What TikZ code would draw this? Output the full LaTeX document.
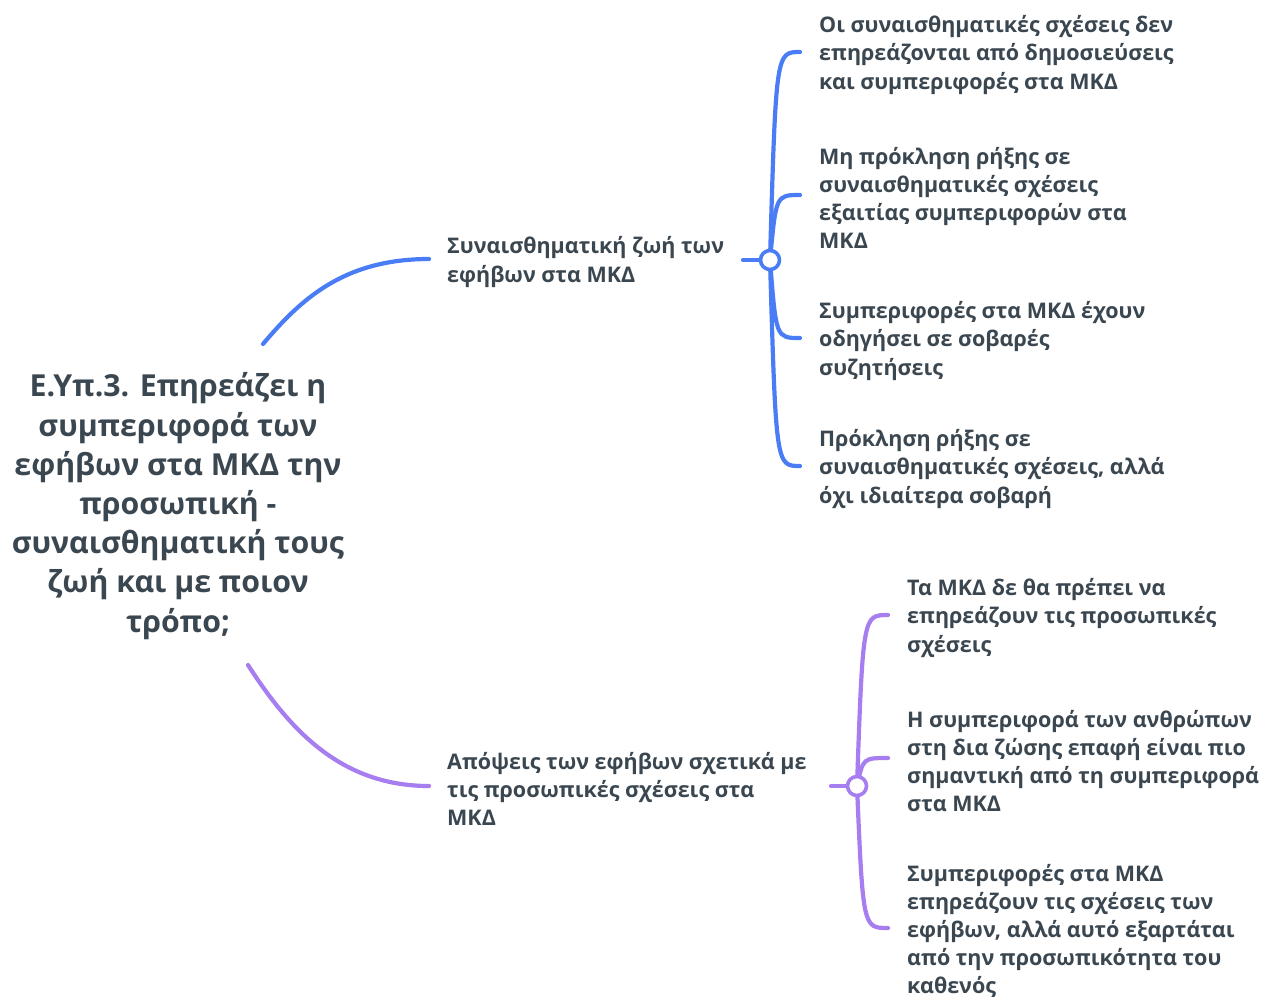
\documentclass[tikz,border=0pt]{standalone}
\usepackage{fontspec}
\setmainfont{Open Sans}
\usetikzlibrary{calc}
\definecolor{ink}{HTML}{3B4750}
\definecolor{bluebr}{HTML}{4A7CF6}
\definecolor{purplebr}{HTML}{A67EEF}
\begin{document}
\begin{tikzpicture}[x=1pt,y=-1pt,
  rootbox/.style={align=center, text=ink, font=\fontsize{30.3}{39.2}\selectfont\bfseries, inner sep=0pt},
  topicbox/.style={align=left, text=ink, font=\fontsize{21.5}{28.1}\selectfont\bfseries, inner xsep=18pt, inner ysep=0pt, anchor=west, yshift=-3pt},
  leafbox/.style={topicbox, inner xsep=19pt},
  link/.style={line width=4.2pt, line cap=round},
  hub/.style={circle, draw, line width=3.6pt, fill=white, minimum size=19pt, inner sep=0pt}
]
\useasboundingbox (0,0) rectangle (1273,999);

% central question
\node[rootbox] (root) at (178,506) {Ε.Υπ.3. Επηρεάζει η\\συμπεριφορά των\\εφήβων στα ΜΚΔ την\\προσωπική -\\συναισθηματική τους\\ζωή και με ποιον\\τρόπο;};
\coordinate (r1) at (263,344);
\coordinate (r2) at (248,665);

% first topic and its leaves
\node[topicbox] (b1) at (429,259) {Συναισθηματική ζωή των\\εφήβων στα ΜΚΔ};
\coordinate (s1) at (743,260);
\coordinate (J1) at (770,260);
\node[leafbox] (a1) at (800,52) {Οι συναισθηματικές σχέσεις δεν\\επηρεάζονται από δημοσιεύσεις\\και συμπεριφορές στα ΜΚΔ};
\node[leafbox] (a2) at (800,195) {Μη πρόκληση ρήξης σε\\συναισθηματικές σχέσεις\\εξαιτίας συμπεριφορών στα\\ΜΚΔ};
\node[leafbox] (a3) at (800,338) {Συμπεριφορές στα ΜΚΔ έχουν\\οδηγήσει σε σοβαρές\\συζητήσεις};
\node[leafbox] (a4) at (800,466) {Πρόκληση ρήξης σε\\συναισθηματικές σχέσεις, αλλά\\όχι ιδιαίτερα σοβαρή};

% second topic and its leaves
\node[topicbox] (b2) at (429,786) {Απόψεις των εφήβων σχετικά με\\τις προσωπικές σχέσεις στα\\ΜΚΔ};
\coordinate (s2) at (831,786);
\coordinate (J2) at (857,786);
\node[leafbox] (p1) at (888,615) {Τα ΜΚΔ δε θα πρέπει να\\επηρεάζουν τις προσωπικές\\σχέσεις};
\node[leafbox] (p2) at (888,758) {Η συμπεριφορά των ανθρώπων\\στη δια ζώσης επαφή είναι πιο\\σημαντική από τη συμπεριφορά\\στα ΜΚΔ};
\node[leafbox] (p3) at (888,928) {Συμπεριφορές στα ΜΚΔ\\επηρεάζουν τις σχέσεις των\\εφήβων, αλλά αυτό εξαρτάται\\από την προσωπικότητα του\\καθενός};

% blue branch connectors
\begin{scope}[link, draw=bluebr]
  \draw (r1) .. controls ($(r1)+(38,-45)$) and ($(b1.west)+(-85,-3)$) .. ([yshift=3pt]b1.west);
  \draw (s1) -- (J1);
  \foreach \c in {a1,a2,a3,a4}
    \draw (J1) .. controls ($(J1 |- \c.west)+(6,-3)$) .. ([yshift=3pt]\c.west);
\end{scope}
\node[hub, draw=bluebr] (h1) at (J1) {};

% purple branch connectors
\begin{scope}[link, draw=purplebr]
  \draw (r2) .. controls ($(r2)+(40,62)$) and ($(b2.west)+(-90,-3)$) .. ([yshift=3pt]b2.west);
  \draw (s2) -- (J2);
  \foreach \c in {p1,p2,p3}
    \draw (J2) .. controls ($(J2 |- \c.west)+(6,-3)$) .. ([yshift=3pt]\c.west);
\end{scope}
\node[hub, draw=purplebr] (h2) at (J2) {};
\end{tikzpicture}
\end{document}
